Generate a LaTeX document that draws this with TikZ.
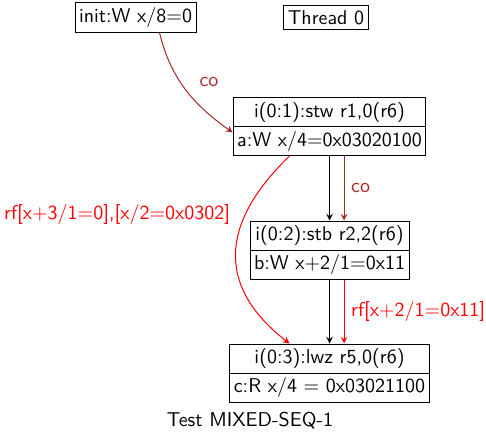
\documentclass[tikz,border=0pt]{standalone}
\usepackage{xcolor}
\usepackage{tikz}
\usetikzlibrary{shapes, arrows, positioning}
\definecolor{cobrown}{HTML}{A52A2A}

\begin{document}
\begin{tikzpicture}[x=0.5pt, y=-0.5pt, >=stealth, line width=0.5pt,
    font=\sffamily\fontsize{10}{12}\selectfont,
    evt/.style={draw, rectangle split, rectangle split parts=2, inner xsep=2pt, inner ysep=2pt},
    lbl/.style={draw, rectangle, inner xsep=2pt, inner ysep=2.3pt}]
    \useasboundingbox (0,0) rectangle (486,435);

    \node (init) [lbl] at (135.5,17.5) {init:W x/8=0};
    \node (thread) [lbl] at (326,17.5) {Thread 0};

    \node (a) [evt] at (329.5,126.5) {i(0:1):stw r1,0(r6) \nodepart{two} a:W x/4=0x03020100};
    \node (b) [evt] at (329.5,250) {i(0:2):stb r2,2(r6) \nodepart{two} b:W x+2/1=0x11};
    \node (c) [evt] at (329.5,373) {i(0:3):lwz r5,0(r6) \nodepart{two} c:R x/4 = 0x03021100};

    \node (title) at (250,421) {Test MIXED-SEQ-1};

    \draw[->, cobrown] ([xshift=12pt]init.south) .. controls +(12,50) and +(-35,-25) .. ([yshift=-3pt]a.west)
        node[pos=0.4, right=6pt] {co};
    \draw[->] (a.south) -- (b.north);
    \draw[->, cobrown] ([xshift=7.25pt]a.south) -- ([xshift=7.25pt]b.north) node[midway, right] {co};
    \draw[->] (b.south) -- (c.north);
    \draw[->, red] ([xshift=7.25pt]b.south) -- ([xshift=7.25pt]c.north) node[midway, right] {rf[x+2/1=0x11]};
    \draw[->, red] ([xshift=-20pt]a.south) .. controls (218,225) and (218,288) .. ([xshift=-20pt]c.north)
        node[pos=0.29, left=4pt] {rf[x+3/1=0],[x/2=0x0302]};
\end{tikzpicture}
\end{document}
